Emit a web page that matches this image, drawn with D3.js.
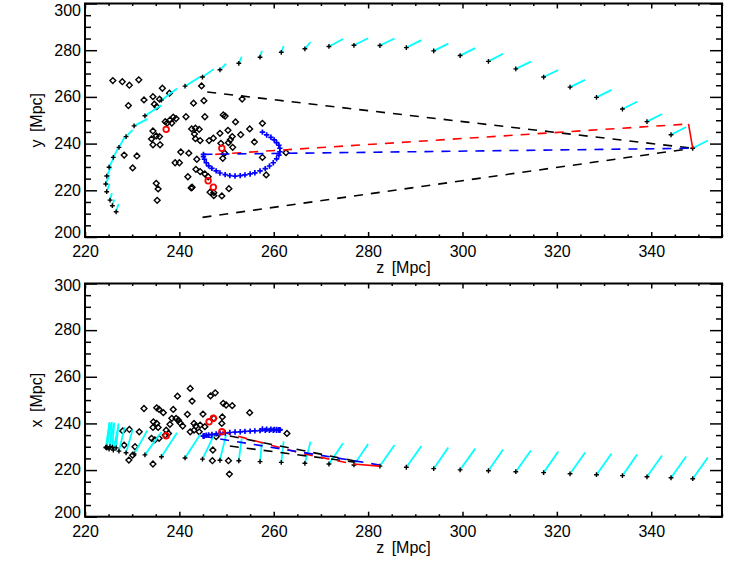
<!DOCTYPE html>
<html><head><meta charset="utf-8">
<script src="https://cdn.jsdelivr.net/npm/d3@7"></script>
<style>body{margin:0;background:#fff} text{font-family:"Liberation Sans",Arial,sans-serif}</style>
</head><body><svg id="c" width="747" height="561"></svg>
<script>
// ---------------- DATA ----------------
const zTicks = [220,240,260,280,300,320,340];
const vTicks = [200,220,240,260,280,300];

// galaxies (top panel: z,y)
const galTopZ = [225.9,227.9,229.4,231.4,234.4,232.5,235.8,234.7,235.2,229.2,236.4,237.9,244.7,243.0,245.2,253.3,249.3,249.7,245.4,241.4,238.7,239.3,238.0,237.4,238.4,237.0,251.9,257.6,234.4,242.6,243.4,244.2,243.2,250.3,248.6,254.9,253.0,251.2,247.2,246.3,244.4,243.4,235.1,235.8,234.1,234.4,235.9,250.8,250.4,248.8,255.9,251.3,240.3,242.0,249.6,228.3,231.0,243.7,249.2,257.6,262.6,239.1,240.0,230.1,243.5,244.4,245.4,258.4,241.8,246.1,242.7,242.5,235.1,235.5,250.5,246.5,247.3,247.3,249.0,235.3];
const galTopY = [267.0,266.5,265.0,267.3,260.1,258.7,259.0,256.9,255.8,256.3,263.7,261.6,264.7,257.3,258.4,259.1,252.3,251.8,251.5,251.5,251.3,250.7,250.1,248.8,248.8,249.4,249.3,248.7,245.4,246.3,246.6,246.1,244.1,245.7,244.4,246.3,243.8,243.0,242.3,241.3,241.3,242.1,243.3,243.0,242.0,239.5,239.5,241.6,240.4,240.1,240.7,238.4,236.4,235.9,235.9,235.1,234.7,233.3,233.7,234.1,236.1,231.8,231.8,229.6,229.0,228.0,227.0,226.6,225.8,225.8,221.3,221.0,223.0,220.6,220.7,219.2,219.0,217.7,217.6,215.7];

// galaxies (bottom panel: z,x)
const galBotZ = [242.3,239.6,246.6,247.6,242.7,232.5,235.2,235.7,236.6,238.7,238.4,239.3,239.8,241.7,245.0,249.3,249.9,251.2,254.9,247.3,249.1,234.5,235.2,234.4,235.5,238.0,240.1,240.7,243.1,243.5,244.4,245.4,249.0,237.2,237.7,242.3,243.1,244.2,231.5,229.4,228.0,234.1,234.8,235.7,237.0,247.8,262.8,228.3,230.6,247.1,230.1,229.3,234.4,247.0,250.4,250.6];
const galBotX = [255.0,251.7,251.8,253.1,249.6,246.4,246.7,246.0,244.6,246.0,242.2,242.2,241.4,243.9,244.0,248.6,247.9,247.6,244.6,242.2,242.8,240.7,240.0,238.3,238.3,239.6,240.3,238.9,240.0,238.9,239.3,238.6,240.0,237.1,235.7,236.4,237.1,236.4,236.4,237.4,236.8,233.6,232.9,233.6,235.0,234.3,235.7,230.7,230.0,228.6,226.4,224.3,222.6,224.0,224.0,218.3];

// highlighted (red) galaxies
const redTopZ = [237.2,249.0,246.1,247.2];
const redTopY = [246.1,238.0,224.1,221.3];
const redBotZ = [237.2,249.0,246.3,247.2];
const redBotX = [234.7,236.4,240.7,242.2];

// trajectory positions and velocity vectors
const trajZ = [226.6,225.8,225.3,224.6,224.4,224.6,225.1,226.0,227.2,228.7,230.4,232.7,236.2,241.2,244.9,248.6,252.6,257.1,261.6,266.6,271.7,277.0,282.5,288.1,293.9,299.5,305.5,311.3,317.2,322.8,328.4,333.9,339.1,344.2,348.8];
const trajY = [210.8,213.4,215.8,219.4,222.7,226.1,229.9,234.1,238.4,243.0,247.6,251.9,258.6,264.6,268.5,271.6,274.4,277.0,279.1,280.6,281.6,282.1,282.0,281.1,279.7,277.7,275.2,272.0,268.5,264.2,259.8,254.8,249.4,243.8,238.0];
const trajX = [229.5,229.8,230.0,229.9,229.7,229.4,229.0,228.6,228.1,227.4,226.9,226.5,225.7,225.2,224.7,224.2,224.0,223.6,223.3,222.9,222.6,222.2,221.7,221.2,220.6,220.1,219.7,219.3,218.9,218.4,218.0,217.6,217.1,216.7,216.3];
const velZ = [0.5,0.4,0.4,0.6,0.8,0.9,1.0,1.1,1.2,1.4,2.8,3.5,3.3,3.2,2.4,1.3,0.6,0.4,0.5,1.2,3.0,3.0,3.1,3.2,3.1,3.2,3.1,3.2,3.1,3.2,3.2,3.1,3.2,3.2,3.2];
const velY = [3.3,2.7,3.0,3.4,3.9,3.9,4.1,4.3,4.3,2.9,2.9,4.5,5.0,4.0,3.4,2.6,2.8,2.8,2.7,2.9,3.2,3.0,3.0,3.2,3.1,3.2,3.3,3.1,3.0,3.1,3.2,3.1,3.3,3.3,3.3];
const velX = [10.5,10.5,10.6,10.6,10.6,10.5,10.5,10.4,10.3,10.0,10.0,9.8,10.3,10.0,10.2,11.0,9.6,8.6,9.0,9.3,8.9,9.0,9.0,9.1,9.1,9.1,9.1,9.1,9.1,9.1,9.1,9.1,9.1,9.1,9.1];

// orbit (blue crosses)
const orbZ = [257.6,258.5,259.4,260.1,260.6,261.1,261.3,261.3,261.1,260.6,259.9,259.1,258.2,257.1,256.0,255.0,253.9,252.9,251.8,250.7,249.7,248.6,247.8,246.9,246.2,245.7,245.3,245.1,245.1];
const orbY = [244.9,243.7,242.7,241.6,240.4,239.3,238.0,236.5,235.1,233.5,231.8,230.4,229.3,228.3,227.5,227.0,226.6,226.3,226.1,226.3,226.7,227.4,228.3,229.4,230.5,231.8,233.3,234.4,235.4];
const orbX = [237.6,237.5,237.5,237.4,237.4,237.3,237.3,237.2,237.2,237.1,237.1,237.0,237.0,236.9,236.8,236.7,236.6,236.4,236.3,236.1,235.9,235.7,235.5,235.3,235.1,234.9,234.7,234.6,234.5];

// line paths (z, y) top and (z, x) bottom
const topRedDashZ = [247.6,347.9], topRedDashY = [235.4,248.4];
const topRedSolidZ = [347.9,348.8], topRedSolidY = [248.4,238.0];
const topBlueDashZ = [245.1,348.8], topBlueDashY = [235.4,238.0];
const topBlackAZ = [245.9,348.8], topBlackAY = [262.1,238.0];
const topBlackBZ = [244.9,348.8], topBlackBY = [208.4,238.0];
const botRedDashZ = [249.0,265.6,276.8], botRedDashX = [236.4,227.3,222.6];
const botRedSolidZ = [276.8,282.4], botRedSolidX = [222.6,221.7];
const botBlueDashZ = [245.1,282.4], botBlueDashX = [234.5,222.2];
const botBlackAZ = [250.7,277.2], botBlackAX = [234.6,223.9];
const botBlackBZ = [250.7,277.2], botBlackBX = [230.3,223.4];

// ---------------- DRAW ----------------
const svg = d3.select('#c');
svg.append('rect').attr('width',747).attr('height',561).attr('fill','#fff');
const x = d3.scaleLinear().domain([220,355]).range([85,722]);
const panels = [
  {top:3.5, bottom:237, label:'y [Mpc]',
   galV:galTopY, galZ:galTopZ, redZ:redTopZ, redV:redTopY, trajV:trajY, velV:velY, orbV:orbY,
   lines:[[topBlackAZ,topBlackAY,'#000',true],[topBlackBZ,topBlackBY,'#000',true],[topRedDashZ,topRedDashY,'#f00',true],[topBlueDashZ,topBlueDashY,'#00f',true],[topRedSolidZ,topRedSolidY,'#f00',false]]},
  {top:283.5, bottom:516.7, label:'x [Mpc]',
   galV:galBotX, galZ:galBotZ, redZ:redBotZ, redV:redBotX, trajV:trajX, velV:velX, orbV:orbX,
   lines:[[botBlackAZ,botBlackAX,'#000',true],[botBlackBZ,botBlackBX,'#000',true],[botRedDashZ,botRedDashX,'#f00',true],[botBlueDashZ,botBlueDashX,'#00f',true],[botRedSolidZ,botRedSolidX,'#f00',false]]}
];
const minorZ = d3.range(225,356,5).filter(v=>v%20!==0);
const minorV = d3.range(205,300,5).filter(v=>v%20!==0);

panels.forEach(p=>{
  const y = d3.scaleLinear().domain([200,300]).range([p.bottom,p.top]);
  const g = svg.append('g');
  // galaxies
  g.selectAll('path.gal').data(d3.range(p.galZ.length)).join('path')
    .attr('d',i=>{const cx=x(p.galZ[i]),cy=y(p.galV[i]),s=2.9;return `M${cx},${cy-s}L${cx+s},${cy}L${cx},${cy+s}L${cx-s},${cy}Z`;})
    .attr('fill','none').attr('stroke','#000').attr('stroke-width',1.4);
  // velocity vectors
  g.selectAll('line.vel').data(d3.range(trajZ.length)).join('line')
    .attr('x1',i=>x(trajZ[i])).attr('y1',i=>y(p.trajV[i]))
    .attr('x2',i=>x(trajZ[i]+velZ[i])).attr('y2',i=>y(p.trajV[i]+p.velV[i]))
    .attr('stroke','#00ffff').attr('stroke-width',1.8);
  // trajectory crosses
  g.selectAll('path.tr').data(d3.range(trajZ.length)).join('path')
    .attr('d',i=>{const cx=x(trajZ[i]),cy=y(p.trajV[i]),s=2.4;return `M${cx-s},${cy}H${cx+s}M${cx},${cy-s}V${cy+s}`;})
    .attr('stroke','#000').attr('stroke-width',1.4).attr('fill','none');
  // lines
  p.lines.forEach(([zs,vs,col,dash])=>{
    g.append('path').attr('d',d3.line().x(d=>x(d[0])).y(d=>y(d[1]))(zs.map((z,i)=>[z,vs[i]])))
      .attr('fill','none').attr('stroke',col).attr('stroke-width',1.6)
      .attr('stroke-dasharray',dash?'9,8':null);
  });
  // orbit crosses
  g.selectAll('path.orb').data(d3.range(orbZ.length)).join('path')
    .attr('d',i=>{const cx=x(orbZ[i]),cy=y(p.orbV[i]),s=2.7;return `M${cx-s},${cy}H${cx+s}M${cx},${cy-s}V${cy+s}`;})
    .attr('stroke','#00f').attr('stroke-width',1.7).attr('fill','none');
  // red galaxies
  g.selectAll('circle.red').data(d3.range(p.redZ.length)).join('circle')
    .attr('cx',i=>x(p.redZ[i])).attr('cy',i=>y(p.redV[i])).attr('r',2.8)
    .attr('fill','none').attr('stroke','#f00').attr('stroke-width',1.8);

  // axes
  const ax = svg.append('g').attr('class','axes');
  const fs = '16px';
  ax.append('g').attr('transform',`translate(0,${p.bottom})`)
    .call(d3.axisBottom(x).tickValues(zTicks).tickFormat(d3.format('d')).tickSizeInner(-5).tickSizeOuter(0).tickPadding(9));
  ax.append('g').attr('transform',`translate(0,${p.bottom})`)
    .call(d3.axisBottom(x).tickValues(minorZ).tickFormat('').tickSizeInner(-2.5).tickSizeOuter(0));
  ax.append('g').attr('transform',`translate(0,${p.top})`)
    .call(d3.axisTop(x).tickValues(zTicks).tickFormat('').tickSizeInner(-5).tickSizeOuter(0));
  ax.append('g').attr('transform',`translate(0,${p.top})`)
    .call(d3.axisTop(x).tickValues(minorZ).tickFormat('').tickSizeInner(-2.5).tickSizeOuter(0));
  const yl = ax.append('g').attr('transform',`translate(85,0)`)
    .call(d3.axisLeft(y).tickValues(vTicks).tickFormat(d3.format('d')).tickSizeInner(-12).tickSizeOuter(0).tickPadding(4));
  // keep top-most label inside the page, lift the lowest label a little
  yl.selectAll('.tick text').attr('dy',d=> d===300 ? (p.top<10 ? '0.75em' : '0.45em') : (d===200 ? '0.05em' : '0.3em'));
  ax.append('g').attr('transform',`translate(85,0)`)
    .call(d3.axisLeft(y).tickValues(minorV).tickFormat('').tickSizeInner(-6).tickSizeOuter(0));
  ax.append('g').attr('transform',`translate(722,0)`)
    .call(d3.axisRight(y).tickValues(vTicks).tickFormat('').tickSizeInner(-12).tickSizeOuter(0));
  ax.append('g').attr('transform',`translate(722,0)`)
    .call(d3.axisRight(y).tickValues(minorV).tickFormat('').tickSizeInner(-6).tickSizeOuter(0));
  ax.selectAll('.domain').remove();
  ax.selectAll('.tick line').attr('stroke','#000').attr('stroke-width',1.5);
  ax.selectAll('text').attr('font-size',fs).attr('fill','#000').style('font-family','"Liberation Sans",Arial,sans-serif');
  ax.append('rect').attr('x',85).attr('y',p.top).attr('width',722-85).attr('height',p.bottom-p.top)
    .attr('fill','none').attr('stroke','#000').attr('stroke-width',2);
  ax.append('text').attr('x',403.5).attr('y',p.bottom+36).attr('text-anchor','middle')
    .attr('font-size',fs).attr('word-spacing','3px').text('z [Mpc]');
  ax.append('text').attr('transform',`translate(42,${(p.top+p.bottom)/2}) rotate(-90)`)
    .attr('text-anchor','middle').attr('font-size',fs).attr('word-spacing','3px').text(p.label);
});
</script></body></html>
